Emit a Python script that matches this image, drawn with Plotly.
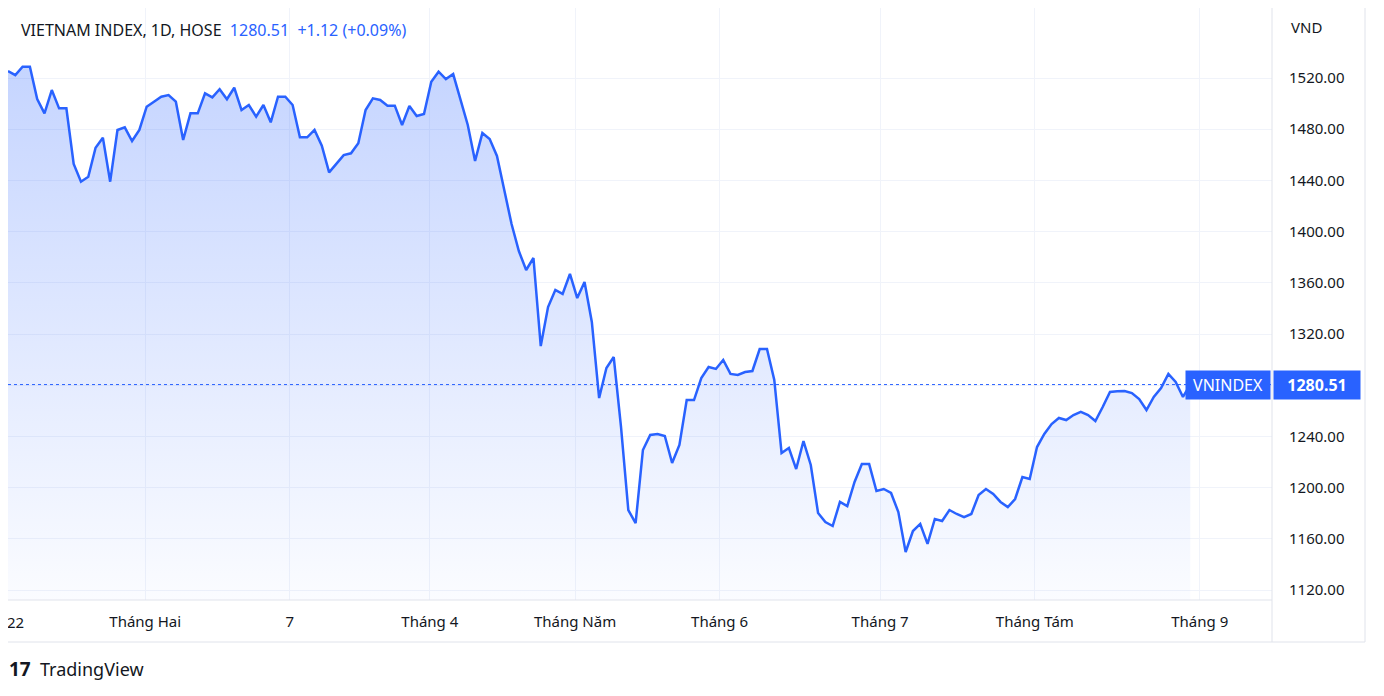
import plotly.graph_objects as go

day_index = [0,1,2,3,4,5,6,7,8,9,10,11,12,13,14,15,16,17,18,19,20,21,22,23,24,25,26,27,28,29,
             30,31,32,33,34,35,36,37,38,39,40,41,42,43,44,45,46,47,48,49,50,51,52,53,54,55,56,57,58,59,
             60,61,62,63,64,65,66,67,68,69,70,71,72,73,74,75,76,77,78,79,80,81,82,83,84,85,86,87,88,89,
             90,91,92,93,94,95,96,97,98,99,100,101,102,103,104,105,106,107,108,109,110,111,112,113,114,115,116,117,118,119,
             120,121,122,123,124,125,126,127,128,129,130,131,132,133,134,135,136,137,138,139,140,141,142,143,144,145,146,147,148,149,
             150,151,152,153,154,155,156,157,158,159,160,161,162]
close = [1525.5,1522.3,1528.8,1528.8,1503.6,1492.4,1510.6,1496.3,1496.3,1452.8,1439.0,1442.9,1465.5,1473.4,1439.0,
         1479.4,1481.5,1470.8,1479.4,1497.6,1501.5,1505.4,1506.7,1501.5,1471.6,1492.4,1492.4,1508.0,1504.9,1511.2,
         1503.4,1512.4,1495.0,1498.9,1489.8,1498.9,1485.4,1505.4,1505.4,1498.9,1473.7,1473.7,1479.4,1467.1,1446.3,
         1453.4,1459.8,1461.2,1469.0,1495.0,1504.1,1502.8,1498.4,1498.4,1483.3,1498.1,1490.3,1491.9,1517.1,1524.9,
         1519.2,1523.1,1502.8,1483.3,1455.2,1477.0,1472.3,1459.1,1432.5,1405.9,1384.8,1370.0,1379.4,1310.6,1341.1,
         1354.4,1351.3,1366.9,1348.1,1360.6,1329.4,1270.0,1293.4,1302.0,1247.3,1182.5,1172.3,1229.4,1241.1,1241.9,
         1240.3,1219.2,1233.3,1268.4,1268.4,1285.6,1294.2,1292.7,1299.7,1288.8,1288.0,1290.3,1291.1,1308.3,1308.3,
         1284.1,1227.0,1230.9,1214.5,1236.4,1217.7,1180.2,1173.1,1170.0,1188.8,1185.6,1204.4,1218.4,1218.4,1197.3,
         1198.9,1195.8,1180.9,1149.7,1166.1,1171.6,1156.0,1175.5,1173.9,1182.5,1179.4,1177.0,1179.4,1194.2,1198.9,
         1195.0,1188.8,1184.8,1191.1,1208.3,1206.7,1231.7,1241.9,1249.7,1254.4,1252.8,1256.7,1259.1,1256.7,1252.0,
         1263.0,1274.7,1275.2,1275.5,1273.9,1269.2,1260.6,1270.8,1277.8,1288.8,1282.5,1270.8,1280.51]
x_tick_pos = [1, 18.8, 38.6, 57.8, 77.7, 97.5, 119.5, 140.7, 163.3]
x_tick_text = ["22", "Tháng Hai", "7", "Tháng 4", "Tháng Năm", "Tháng 6", "Tháng 7", "Tháng Tám", "Tháng 9"]
y_ticks = [1120, 1160, 1200, 1240, 1280, 1320, 1360, 1400, 1440, 1480, 1520]
last_price = 1280.51

BLUE = "#2962ff"
TXT = "#131722"
GRID = "#f0f3fa"
BORDER = "#e0e3eb"

def px(x):
    return (x - 8) / 1264
def py(y):
    return (600 - y) / 592

fig = go.Figure()
fig.add_trace(go.Scatter(
    x=day_index, y=close, mode="lines",
    line=dict(color=BLUE, width=2.5),
    fill="tozeroy",
    fillgradient=dict(type="vertical", start=1112, stop=1530,
                      colorscale=[[0, "rgba(41,98,255,0.02)"], [1, "rgba(41,98,255,0.27)"]]),
    hoverinfo="skip", showlegend=False))

fig.add_shape(type="line", xref="x", yref="y", x0=0, x1=173.2, y0=last_price, y1=last_price,
              line=dict(color=BLUE, width=1, dash="dot"))

for s in [dict(x0=px(0), x1=px(1365), y0=py(642), y1=py(642)),
          dict(x0=px(1272), x1=px(1272), y0=py(642), y1=py(8)),
          dict(x0=px(1365), x1=px(1365), y0=py(642), y1=py(8)),
          dict(x0=px(0), x1=px(1272), y0=py(600), y1=py(600))]:
    fig.add_shape(type="line", xref="paper", yref="paper", line=dict(color=BORDER, width=1), **s)

fig.update_layout(
    width=1384, height=696,
    margin=dict(l=0, r=120, t=0, b=104, autoexpand=False),
    paper_bgcolor="white", plot_bgcolor="white",
    font=dict(family="Noto Sans, Inter, sans-serif", size=15, color=TXT),
    xaxis=dict(range=[0, 173.2], tickvals=x_tick_pos[1:], ticktext=x_tick_text[1:],
               showgrid=True, gridcolor=GRID, zeroline=False, showline=False, ticks="",
               tickfont=dict(size=15, color=TXT), ticklabelstandoff=11, fixedrange=True),
    yaxis=dict(range=[1112.2, 1574.7], side="right", tickvals=y_ticks,
               tickformat=".2f", showgrid=True, gridcolor=GRID, zeroline=False,
               showline=False, ticks="", tickfont=dict(size=15, color=TXT),
               ticklabelstandoff=16),
    annotations=[
        dict(xref="x", yref="paper", x=x_tick_pos[0], y=py(622), xanchor="center", yanchor="middle",
             showarrow=False, text=x_tick_text[0], font=dict(size=15, color=TXT)),
        dict(xref="paper", yref="paper", x=px(19), y=py(30), xanchor="left", yanchor="middle",
             showarrow=False, font=dict(size=16, color=TXT),
             text="VIETNAM INDEX, 1D, HOSE  <span style='color:#2962ff'>1280.51  +1.12 (+0.09%)</span>"),
        dict(xref="paper", yref="paper", x=px(1289), y=py(27), xanchor="left", yanchor="middle",
             showarrow=False, text="VND", font=dict(size=15, color=TXT)),
        dict(xref="paper", yref="y", x=px(1228), y=last_price, xanchor="center", yanchor="middle",
             showarrow=False, text="VNINDEX", bgcolor=BLUE, borderpad=3, width=78,
             font=dict(size=16, color="white")),
        dict(xref="paper", yref="y", x=px(1317), y=last_price, xanchor="center", yanchor="middle",
             showarrow=False, text="<b>1280.51</b>", bgcolor=BLUE, borderpad=3, width=80,
             font=dict(size=16, color="white")),
        dict(xref="paper", yref="paper", x=px(7), y=py(669), xanchor="left", yanchor="middle",
             showarrow=False, text="<b>17</b>", font=dict(size=19, color=TXT)),
        dict(xref="paper", yref="paper", x=px(38), y=py(669), xanchor="left", yanchor="middle",
             showarrow=False, text="TradingView", font=dict(size=18, color=TXT)),
    ],
)
fig.write_html("out.html")
